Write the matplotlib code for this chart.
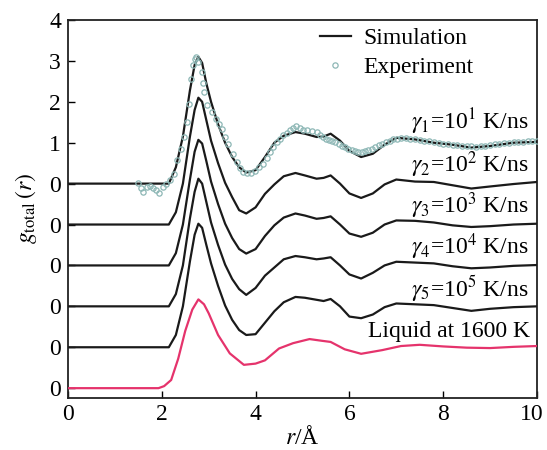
import matplotlib
matplotlib.use('Agg')
from matplotlib import pyplot as plt
from matplotlib.legend_handler import HandlerLine2D
from matplotlib.transforms import ScaledTranslation

# r grid shared by the simulated curves (Angstrom)
r_sim = [0.0, 2.15, 2.3, 2.45, 2.6, 2.7, 2.78, 2.86, 2.95, 3.05, 3.2, 3.35, 3.5,
         3.65, 3.8, 4.0, 4.2, 4.4, 4.6, 4.85, 5.05, 5.3, 5.45, 5.6, 5.8, 6.0,
         6.25, 6.5, 6.75, 7.0, 7.4, 7.8, 8.2, 8.6, 9.0, 9.5, 10.0]

g_rate1 = [0, 0, 0.4, 1.15, 2.28, 2.9, 3.1, 2.95, 2.45, 2.0, 1.45, 1.0, 0.65,
           0.4, 0.27, 0.33, 0.65, 1.0, 1.17, 1.26, 1.22, 1.14, 1.15, 1.22, 1.05, 0.8,
           0.65, 0.73, 0.95, 1.12, 1.08, 1.0, 0.95, 0.88, 0.92, 1.0, 1.02]
g_rate2 = [0, 0, 0.3, 1.0, 2.15, 2.8, 3.1, 3.0, 2.55, 2.05, 1.5, 1.02, 0.67,
           0.35, 0.27, 0.42, 0.75, 0.98, 1.18, 1.26, 1.2, 1.12, 1.14, 1.2, 1.0, 0.76,
           0.65, 0.76, 0.98, 1.1, 1.05, 1.04, 0.96, 0.88, 0.93, 0.99, 1.04]
g_rate3 = [0, 0, 0.3, 1.0, 2.1, 2.78, 3.07, 2.98, 2.55, 2.05, 1.5, 1.02, 0.67,
           0.4, 0.29, 0.4, 0.72, 0.98, 1.17, 1.27, 1.22, 1.14, 1.16, 1.2, 1.0, 0.78,
           0.7, 0.8, 1.0, 1.1, 1.09, 1.05, 0.98, 0.94, 0.96, 1.0, 1.02]
g_rate4 = [0, 0, 0.3, 1.0, 2.15, 2.8, 3.12, 3.0, 2.55, 2.05, 1.5, 1.02, 0.67,
           0.42, 0.28, 0.45, 0.75, 0.95, 1.15, 1.23, 1.2, 1.15, 1.17, 1.2, 1.0, 0.78,
           0.68, 0.82, 1.0, 1.09, 1.07, 1.05, 0.98, 0.93, 0.95, 0.99, 1.01]
g_rate5 = [0, 0, 0.3, 1.0, 2.1, 2.75, 3.02, 2.92, 2.5, 2.05, 1.5, 1.02, 0.67,
           0.42, 0.3, 0.32, 0.6, 0.88, 1.1, 1.23, 1.21, 1.16, 1.13, 1.18, 1.0, 0.75,
           0.71, 0.8, 0.98, 1.07, 1.05, 1.03, 0.96, 0.89, 0.94, 0.98, 1.0]

# liquid at 1600 K
r_liq = [0, 1.93, 2.05, 2.2, 2.35, 2.5, 2.65, 2.78, 2.9, 3.0, 3.2, 3.45, 3.75,
         4.0, 4.2, 4.5, 4.8, 5.15, 5.4, 5.6, 5.9, 6.25, 6.7, 7.1, 7.5, 8.0, 8.5,
         9.0, 9.5, 10.0]
g_liq = [0, 0, 0.05, 0.2, 0.72, 1.4, 1.92, 2.17, 2.05, 1.83, 1.3, 0.85, 0.57,
         0.6, 0.68, 0.97, 1.1, 1.2, 1.16, 1.13, 0.95, 0.84, 0.93, 1.03, 1.06, 1.02,
         0.99, 0.98, 1.01, 1.03]

# experiment
exp_r = [1.5, 1.55, 1.6, 1.68, 1.75, 1.82, 1.88, 1.93, 2.03, 2.1, 2.17, 2.25,
         2.32, 2.4, 2.48, 2.54, 2.59, 2.62, 2.67, 2.71, 2.74, 2.78, 2.85, 2.87,
         2.9, 2.97, 3.06, 3.16, 3.22, 3.28, 3.35, 3.42, 3.52, 3.6, 3.67, 3.74,
         3.82, 3.9, 3.98, 4.08, 4.16, 4.24, 4.31, 4.38, 4.45, 4.52, 4.59, 4.66,
         4.73, 4.8, 4.87, 4.95, 5.02, 5.1, 5.2, 5.3, 5.37, 5.44, 5.5, 5.57, 5.63,
         5.69, 5.77, 5.84, 5.91, 5.98, 6.05, 6.12, 6.19, 6.26, 6.33, 6.4, 6.48,
         6.55, 6.63, 6.7, 6.78, 6.86, 6.94, 7.02, 7.1, 7.2, 7.3, 7.4, 7.5, 7.6,
         7.7, 7.8, 7.9, 8.0, 8.1, 8.2, 8.3, 8.4, 8.5, 8.6, 8.7, 8.8, 8.9, 9.0,
         9.1, 9.2, 9.3, 9.4, 9.5, 9.6, 9.7, 9.8, 9.9, 10.0]
exp_g = [0.02, -0.1, -0.2, -0.08, -0.06, -0.11, -0.15, -0.23, -0.08, -0.02,
         0.08, 0.24, 0.57, 0.85, 1.14, 1.5, 1.95, 2.56, 2.89, 3.05, 3.1, 2.97,
         2.72, 2.45, 2.23, 1.91, 1.75, 1.59, 1.45, 1.34, 1.14, 0.96, 0.73, 0.52,
         0.37, 0.28, 0.26, 0.27, 0.31, 0.4, 0.49, 0.63, 0.77, 0.9, 1.01, 1.1, 1.18,
         1.24, 1.3, 1.36, 1.4, 1.37, 1.32, 1.3, 1.28, 1.26, 1.2, 1.15, 1.1, 1.07,
         1.04, 1.01, 0.97, 0.93, 0.89, 0.85, 0.82, 0.8, 0.78, 0.77, 0.79, 0.81,
         0.85, 0.89, 0.94, 0.98, 1.02, 1.05, 1.08, 1.1, 1.11, 1.11, 1.1, 1.08,
         1.07, 1.05, 1.04, 1.02, 1.0, 0.98, 0.97, 0.95, 0.94, 0.93, 0.92, 0.91,
         0.9, 0.91, 0.93, 0.95, 0.96, 0.98, 0.99, 1.0, 1.01, 1.02, 1.02, 1.03,
         1.03, 1.03]

rate_labels = [r'$\gamma_1$=10$^1$ K/ns', r'$\gamma_2$=10$^2$ K/ns',
               r'$\gamma_3$=10$^3$ K/ns', r'$\gamma_4$=10$^4$ K/ns',
               r'$\gamma_5$=10$^5$ K/ns']
liq_label = 'Liquid at 1600 K'
ytick_labels = ['0', '0', '0', '0', '0', '0', '1', '2', '3', '4']
xticks = [0, 2, 4, 6, 8, 10]

# vertical shift of each curve (layout only)
offsets = [5, 4, 3, 2, 1]


class RightMarker(HandlerLine2D):
    # put the single legend marker at the right end of the handle
    def get_xdata(self, legend, xdescent, ydescent, width, height, fontsize):
        xdata, _ = super().get_xdata(legend, xdescent, ydescent, width, height, fontsize)
        return xdata, [-xdescent + 0.9 * width]


plt.rcParams['font.family'] = ['Liberation Serif', 'DejaVu Serif']
plt.rcParams['mathtext.fontset'] = 'stix'
FS = 17

fig = plt.figure(figsize=(5.47, 4.5), dpi=100)
ax = fig.add_axes([0.1243, 0.1156, 0.8574, 0.84])

black = '#1a1a1a'
curves = [g_rate1, g_rate2, g_rate3, g_rate4, g_rate5]
for i, (g, off) in enumerate(zip(curves, offsets)):
    ax.plot(r_sim, [v + off for v in g], color=black, lw=1.6,
            label='Simulation' if i == 0 else None, zorder=3)
ax.plot(r_liq, g_liq, color='#e5336c', lw=1.6, zorder=3)
exp_line, = ax.plot(exp_r, [v + offsets[0] for v in exp_g], ls='none', marker='o',
                    ms=3.8, mfc='none', mec='#8db7b5', mew=0.9,
                    label='Experiment', zorder=4)

label_y = [6.52, 5.47, 4.46, 3.46, 2.43]
for txt, y in zip(rate_labels, label_y):
    ax.text(9.82, y, txt, ha='right', va='center', fontsize=FS)
ax.text(9.86, 1.38, liq_label, ha='right', va='center', fontsize=FS)

ax.set_xlim(0, 10)
ax.set_ylim(-0.24, 9)
ax.set_xticks(xticks)
ax.set_yticks(range(10))
ax.set_yticklabels(ytick_labels)
ax.tick_params(direction='in', length=5, width=1, labelsize=FS, pad=4)
ax.tick_params(axis='y', pad=5)
for s in ax.spines.values():
    s.set_linewidth(1.3)
    s.set_color('#222222')

# the "10" sits a little left of its tick, as in the original
last = ax.get_xticklabels()[-1]
last.set_transform(last.get_transform() + ScaledTranslation(-5 / 100, 0, fig.dpi_scale_trans))

ax.set_xlabel(r'$r$/Å', fontsize=FS, labelpad=1)
ax.set_ylabel(r'$g_{\mathrm{total}}\,(r)$', fontsize=FS, labelpad=7)

ax.legend(loc='upper left', bbox_to_anchor=(0.537, 0.979), frameon=False,
          fontsize=FS, handlelength=1.3, handletextpad=0.55, labelspacing=0.29,
          borderpad=0, borderaxespad=0, numpoints=1,
          handler_map={exp_line: RightMarker()})

fig.savefig('out.png', dpi=100)
